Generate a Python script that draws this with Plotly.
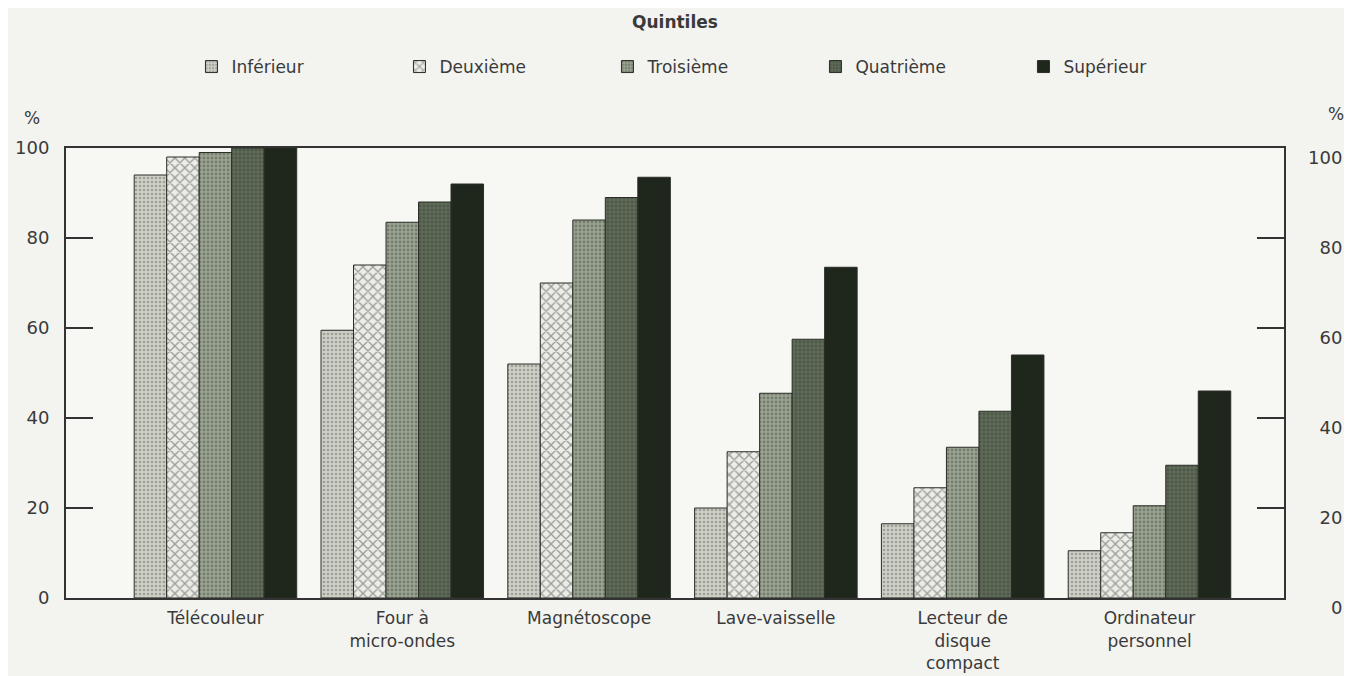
import plotly.graph_objects as go

categories = ["Télécouleur", "Four à<br>micro-ondes", "Magnétoscope", "Lave-vaisselle",
              "Lecteur de<br>disque<br>compact", "Ordinateur<br>personnel"]
series_names = ["Inférieur", "Deuxième", "Troisième", "Quatrième", "Supérieur"]
inferieur = [94, 59.5, 52, 20, 16.5, 10.5]
deuxieme = [98, 74, 70, 32.5, 24.5, 14.5]
troisieme = [99, 83.5, 84, 45.5, 33.5, 20.5]
quatrieme = [100, 88, 89, 57.5, 41.5, 29.5]
superieur = [100, 92, 93.5, 73.5, 54, 46]
y_ticks = [0, 20, 40, 60, 80, 100]
y_ticktext_right = ["\u2007\u20070", "\u200720", "\u200740", "\u200760", "\u200780", "100"]

values = [inferieur, deuxieme, troisieme, quatrieme, superieur]
styles = [
    dict(shape=".", bgcolor="#cfcfc8", fgcolor="#6e7268", size=4, solidity=0.35),
    dict(shape="x", bgcolor="#ecece8", fgcolor="#4a4e46", size=7, solidity=0.35),
    dict(shape=".", bgcolor="#9ba392", fgcolor="#50584a", size=4, solidity=0.4),
    dict(shape=".", bgcolor="#5f6a58", fgcolor="#3a4335", size=4, solidity=0.4),
    dict(shape="", bgcolor="#1f261c", fgcolor="#1f261c", size=4, solidity=0.5),
]
colors = ["#cfcfc8", "#ecece8", "#9ba392", "#5f6a58", "#1f261c"]

fig = go.Figure()
for name, vals, st, c in zip(series_names, values, styles, colors):
    fig.add_trace(go.Bar(
        x=list(range(len(categories))), y=vals, name=name,
        marker=dict(color=c, pattern=st, line=dict(color="#2a2e27", width=1)),
    ))

# invisible trace for right axis
fig.add_trace(go.Scatter(x=[0], y=[0], yaxis="y2", showlegend=False,
                         mode="markers", marker=dict(opacity=0), hoverinfo="skip"))

font_family = "DejaVu Sans, Liberation Sans, sans-serif"
txt = "#3a3a3a"
fig.update_layout(
    width=1336, height=668,
    margin=dict(l=58, r=60, t=140, b=78),
    paper_bgcolor="#f3f3f0", plot_bgcolor="#f7f7f4",
    barmode="group", bargap=0.13, bargroupgap=0,
    font=dict(family=font_family, size=18, color=txt),
    xaxis=dict(range=[-0.8, 5.72], tickmode="array", automargin=False,
               tickvals=list(range(len(categories))), ticktext=categories,
               tickfont=dict(size=17), ticklabelstandoff=4,
               showline=True, linecolor="#333", linewidth=2, mirror=True,
               ticks="", showgrid=False, zeroline=False),
    yaxis=dict(range=[0, 100], tickvals=y_ticks, ticks="inside", ticklen=27,
               automargin=False,
               tickwidth=2, tickcolor="#333", showgrid=False, zeroline=False,
               showline=True, linecolor="#333", linewidth=2, mirror=True,
               ticklabelstandoff=11),
    yaxis2=dict(range=[0, 100], tickvals=y_ticks, ticktext=y_ticktext_right,
                overlaying="y", side="right", automargin=False,
                ticks="inside", ticklen=27, tickwidth=2, tickcolor="#333",
                showgrid=False, zeroline=False, showline=False,
                ticklabelstandoff=23, ticklabelshift=10),
    legend=dict(orientation="h", x=0.103, xanchor="left", y=1.18, yanchor="middle",
                entrywidth=163, entrywidthmode="pixels",
                font=dict(size=17, color=txt), bgcolor="rgba(0,0,0,0)"),
    annotations=[
        dict(text="<b>Quintiles</b>", x=0.5, y=1.28, xref="paper", yref="paper",
             yanchor="middle", showarrow=False, font=dict(size=17, color=txt)),
        dict(text="%", x=-0.028, y=1.067, xref="paper", yref="paper",
             xanchor="center", yanchor="middle", showarrow=False,
             font=dict(size=17, color=txt)),
        dict(text="%", x=1.0427, y=1.075, xref="paper", yref="paper",
             xanchor="center", yanchor="middle", showarrow=False,
             font=dict(size=17, color=txt)),
    ],
)

fig.write_html("out.html")
